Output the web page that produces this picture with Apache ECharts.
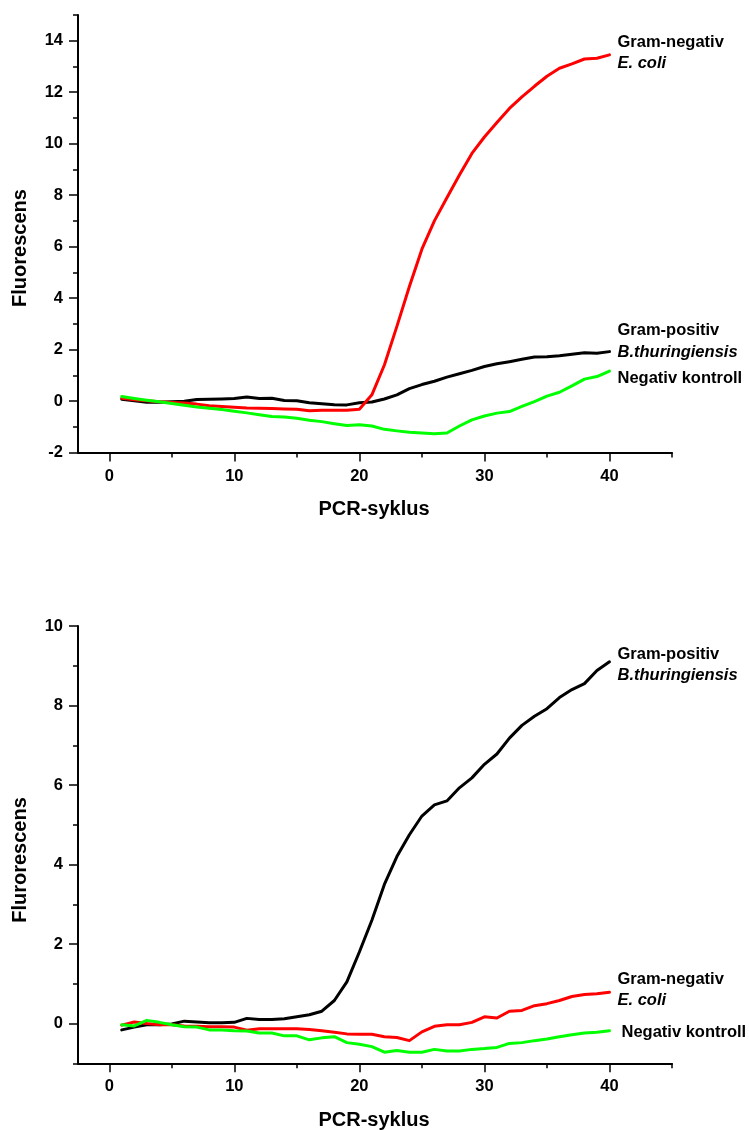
<!DOCTYPE html>
<html>
<head>
<meta charset="utf-8">
<title>PCR-syklus fluorescens</title>
<script src="https://cdn.jsdelivr.net/npm/echarts@6/dist/echarts.min.js"></script>
<style>
  html, body { margin: 0; padding: 0; background: #ffffff; }
  #chart { width: 749px; height: 1130px; }
</style>
</head>
<body>
<div id="chart"></div>
<script>
// PCR cycle numbers (shared by both panels)
const cycles = [1, 2, 3, 4, 5, 6, 7, 8, 9, 10, 11, 12, 13, 14, 15, 16, 17, 18, 19, 20,
                21, 22, 23, 24, 25, 26, 27, 28, 29, 30, 31, 32, 33, 34, 35, 36, 37, 38, 39, 40];

// Upper panel: fluorescence per cycle
const topGramPos = [0.07, 0.01, -0.05, -0.05, -0.03, -0.01, 0.06, 0.07, 0.08, 0.10,
                    0.16, 0.10, 0.11, 0.02, 0.01, -0.07, -0.11, -0.14, -0.15, -0.07,
                    -0.04, 0.08, 0.24, 0.48, 0.64, 0.77, 0.93, 1.06, 1.19, 1.34,
                    1.45, 1.53, 1.62, 1.71, 1.72, 1.76, 1.82, 1.88, 1.86, 1.92];
const topGramNeg = [0.11, 0.05, 0.01, -0.03, -0.06, -0.08, -0.12, -0.18, -0.21, -0.24,
                    -0.27, -0.28, -0.29, -0.31, -0.32, -0.38, -0.36, -0.36, -0.36, -0.32,
                    0.24, 1.40, 2.90, 4.45, 5.90, 7.00, 7.90, 8.78, 9.62, 10.26,
                    10.82, 11.37, 11.82, 12.23, 12.62, 12.93, 13.10, 13.29, 13.32, 13.45];
const topNegCtrl = [0.18, 0.10, 0.03, -0.03, -0.10, -0.16, -0.23, -0.28, -0.33, -0.40,
                    -0.46, -0.53, -0.60, -0.62, -0.67, -0.75, -0.80, -0.88, -0.95, -0.92,
                    -0.97, -1.10, -1.16, -1.21, -1.24, -1.27, -1.24, -0.97, -0.73, -0.58,
                    -0.47, -0.41, -0.21, -0.02, 0.19, 0.34, 0.59, 0.85, 0.95, 1.16];

// Lower panel: fluorescence per cycle
const bottomGramPos = [-0.16, -0.09, -0.03, -0.03, -0.01, 0.06, 0.04, 0.02, 0.02, 0.03,
                       0.13, 0.10, 0.10, 0.12, 0.17, 0.22, 0.31, 0.58, 1.05, 1.80,
                       2.60, 3.50, 4.20, 4.75, 5.22, 5.50, 5.60, 5.93, 6.18, 6.52,
                       6.78, 7.18, 7.50, 7.73, 7.92, 8.20, 8.40, 8.55, 8.88, 9.10];
const bottomGramNeg = [-0.04, 0.04, 0.00, -0.03, -0.03, -0.06, -0.07, -0.08, -0.08, -0.09,
                       -0.17, -0.13, -0.13, -0.13, -0.13, -0.15, -0.18, -0.22, -0.26, -0.27,
                       -0.27, -0.33, -0.35, -0.43, -0.21, -0.07, -0.03, -0.03, 0.03, 0.17,
                       0.14, 0.31, 0.33, 0.45, 0.50, 0.58, 0.68, 0.73, 0.75, 0.79];
const bottomNegCtrl = [-0.03, -0.06, 0.08, 0.03, -0.03, -0.08, -0.09, -0.16, -0.16, -0.18,
                       -0.19, -0.24, -0.24, -0.31, -0.31, -0.41, -0.36, -0.33, -0.48, -0.52,
                       -0.58, -0.72, -0.68, -0.72, -0.72, -0.65, -0.69, -0.69, -0.65, -0.63,
                       -0.60, -0.50, -0.48, -0.43, -0.39, -0.33, -0.28, -0.24, -0.22, -0.18];

// Tick positions
const xMajorTicks = [0, 10, 20, 30, 40];
const xMinorTicks = [5, 15, 25, 35, 45];
const topYMajorTicks = [-2, 0, 2, 4, 6, 8, 10, 12, 14];
const topYMinorTicks = [-1, 1, 3, 5, 7, 9, 11, 13, 15];
const bottomYMajorTicks = [0, 2, 4, 6, 8, 10];
const bottomYMinorTicks = [-1, 1, 3, 5, 7, 9];

// Text
const xTitle = 'PCR-syklus';
const topYTitle = 'Fluorescens';
const bottomYTitle = 'Flurorescens';
const labelGramNeg = ['Gram-negativ', 'E. coli'];
const labelGramPos = ['Gram-positiv', 'B.thuringiensis'];
const labelNegCtrl = ['Negativ kontroll'];

const FONT = "'Liberation Sans', Arial, Helvetica, sans-serif";
const AXIS_COLOR = '#000000';

function pairs(values) {
  return cycles.map((c, i) => [c, values[i]]);
}

function majorXAxis(gridIndex) {
  return {
    type: 'value', gridIndex: gridIndex, min: -2.5, max: 45, position: 'bottom',
    axisLine: { show: true, onZero: false, lineStyle: { color: AXIS_COLOR, width: 2 } },
    axisTick: { show: true, inside: false, length: 9, customValues: xMajorTicks,
                lineStyle: { color: AXIS_COLOR, width: 1.5 } },
    axisLabel: { show: true, customValues: xMajorTicks, margin: 15, color: '#000',
                 fontFamily: FONT, fontWeight: 'bold', fontSize: 16.5 },
    splitLine: { show: false }
  };
}
function minorXAxis(gridIndex) {
  return {
    type: 'value', gridIndex: gridIndex, min: -2.5, max: 45, position: 'bottom',
    axisLine: { show: false, onZero: false },
    axisTick: { show: true, inside: false, length: 5, customValues: xMinorTicks,
                lineStyle: { color: AXIS_COLOR, width: 1.5 } },
    axisLabel: { show: false },
    splitLine: { show: false }
  };
}
function majorYAxis(gridIndex, min, max, ticks) {
  return {
    type: 'value', gridIndex: gridIndex, min: min, max: max, position: 'left',
    axisLine: { show: true, onZero: false, lineStyle: { color: AXIS_COLOR, width: 2 } },
    axisTick: { show: true, inside: false, length: 9, customValues: ticks,
                lineStyle: { color: AXIS_COLOR, width: 1.5 } },
    axisLabel: { show: true, customValues: ticks, margin: 15, color: '#000',
                 fontFamily: FONT, fontWeight: 'bold', fontSize: 16.5 },
    splitLine: { show: false }
  };
}
function minorYAxis(gridIndex, min, max, ticks) {
  return {
    type: 'value', gridIndex: gridIndex, min: min, max: max, position: 'left',
    axisLine: { show: false, onZero: false },
    axisTick: { show: true, inside: false, length: 5, customValues: ticks,
                lineStyle: { color: AXIS_COLOR, width: 1.5 } },
    axisLabel: { show: false },
    splitLine: { show: false }
  };
}

const richText = {
  n: { fontFamily: FONT, fontWeight: 'bold', fontSize: 16.5, color: '#000', lineHeight: 21.5 },
  i: { fontFamily: FONT, fontWeight: 'bold', fontStyle: 'italic', fontSize: 16.5, color: '#000', lineHeight: 21.5 }
};

function curve(name, xIdx, yIdx, values, color, lines, dy, dist) {
  const fmt = lines.length > 1 ? '{n|' + lines[0] + '}\n{i|' + lines[1] + '}' : '{n|' + lines[0] + '}';
  return {
    type: 'line', name: name, xAxisIndex: xIdx, yAxisIndex: yIdx,
    data: pairs(values), showSymbol: false, symbol: 'none', smooth: false,
    lineStyle: { color: color, width: 3, cap: 'round', join: 'round' },
    itemStyle: { color: color },
    animation: false, silent: true,
    endLabel: {
      show: true, formatter: fmt, rich: richText, distance: dist,
      offset: [0, dy], align: 'left', verticalAlign: 'middle'
    }
  };
}

const chart = echarts.init(document.getElementById('chart'), null, { renderer: 'canvas' });

chart.setOption({
  backgroundColor: '#ffffff',
  animation: false,
  grid: [
    { left: 78, top: 15, width: 594, height: 437.5, containLabel: false, outerBoundsMode: 'none' },
    { left: 78, top: 626, width: 594, height: 437.3, containLabel: false, outerBoundsMode: 'none' }
  ],
  xAxis: [majorXAxis(0), minorXAxis(0), majorXAxis(1), minorXAxis(1)],
  yAxis: [
    majorYAxis(0, -2, 15, topYMajorTicks), minorYAxis(0, -2, 15, topYMinorTicks),
    majorYAxis(1, -1, 10, bottomYMajorTicks), minorYAxis(1, -1, 10, bottomYMinorTicks)
  ],
  series: [
    curve('Gram-positiv B.thuringiensis', 0, 0, topGramPos, '#000000', labelGramPos, -10, 8),
    curve('Gram-negativ E. coli', 0, 0, topGramNeg, '#ff0000', labelGramNeg, -2, 8),
    curve('Negativ kontroll', 0, 0, topNegCtrl, '#00ff00', labelNegCtrl, 7, 8),
    curve('Gram-positiv B.thuringiensis', 2, 2, bottomGramPos, '#000000', labelGramPos, 3, 8),
    curve('Gram-negativ E. coli', 2, 2, bottomGramNeg, '#ff0000', labelGramNeg, -2, 8),
    curve('Negativ kontroll', 2, 2, bottomNegCtrl, '#00ff00', labelNegCtrl, 2, 12)
  ],
  graphic: [
    { type: 'text', x: 374, y: 509.5, silent: true,
      style: { text: xTitle, fill: '#000', font: 'bold 20px ' + FONT, align: 'center', verticalAlign: 'middle' } },
    { type: 'text', x: 374, y: 1120.5, silent: true,
      style: { text: xTitle, fill: '#000', font: 'bold 20px ' + FONT, align: 'center', verticalAlign: 'middle' } },
    { type: 'text', x: 20.5, y: 248, rotation: Math.PI / 2, silent: true,
      style: { text: topYTitle, fill: '#000', font: 'bold 20px ' + FONT, align: 'center', verticalAlign: 'middle' } },
    { type: 'text', x: 20.5, y: 860, rotation: Math.PI / 2, silent: true,
      style: { text: bottomYTitle, fill: '#000', font: 'bold 20px ' + FONT, align: 'center', verticalAlign: 'middle' } }
  ]
});
</script>
</body>
</html>
